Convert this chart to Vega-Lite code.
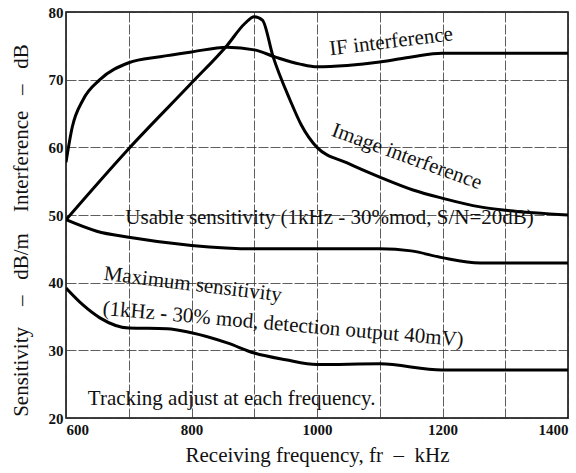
{
  "$schema": "https://vega.github.io/schema/vega-lite/v6.json",
  "width": 502,
  "height": 406,
  "autosize": {"type": "none"},
  "padding": {"left": 66, "top": 12, "right": 8, "bottom": 55},
  "background": "white",
  "config": {
    "view": {"stroke": "black", "strokeWidth": 1.5},
    "axis": {
      "grid": true,
      "gridColor": "#333",
      "gridWidth": 0.8,
      "gridDash": [10, 2],
      "domain": false,
      "ticks": false,
      "labelFont": "Liberation Sans Narrow",
      "labelFontWeight": "bold",
      "labelFontSize": 15,
      "labelColor": "#111",
      "titleFont": "Liberation Serif",
      "titleFontWeight": "normal",
      "titleFontSize": 21,
      "titleColor": "#111"
    }
  },
  "datasets": {
    "curves": [
      {"s": "IF", "x": 600, "y": 57.8},
      {"s": "IF", "x": 610, "y": 63},
      {"s": "IF", "x": 627, "y": 67},
      {"s": "IF", "x": 654, "y": 70},
      {"s": "IF", "x": 700, "y": 72.5},
      {"s": "IF", "x": 750, "y": 73.4},
      {"s": "IF", "x": 800, "y": 74.1},
      {"s": "IF", "x": 857, "y": 74.8},
      {"s": "IF", "x": 900, "y": 74.4},
      {"s": "IF", "x": 935, "y": 73.3},
      {"s": "IF", "x": 973, "y": 72.3},
      {"s": "IF", "x": 1000, "y": 71.9},
      {"s": "IF", "x": 1048, "y": 72.1},
      {"s": "IF", "x": 1100, "y": 72.6},
      {"s": "IF", "x": 1153, "y": 73.4},
      {"s": "IF", "x": 1199, "y": 73.9},
      {"s": "IF", "x": 1300, "y": 73.9},
      {"s": "IF", "x": 1400, "y": 73.9},
      {"s": "Image", "x": 600, "y": 49.3},
      {"s": "Image", "x": 700, "y": 59.8},
      {"s": "Image", "x": 800, "y": 69.5},
      {"s": "Image", "x": 857, "y": 75.1},
      {"s": "Image", "x": 885, "y": 78.3},
      {"s": "Image", "x": 900, "y": 79.3},
      {"s": "Image", "x": 913, "y": 78.8},
      {"s": "Image", "x": 930, "y": 73.4},
      {"s": "Image", "x": 957, "y": 67},
      {"s": "Image", "x": 975, "y": 63.3},
      {"s": "Image", "x": 1000, "y": 60},
      {"s": "Image", "x": 1048, "y": 57.7},
      {"s": "Image", "x": 1100, "y": 55.6},
      {"s": "Image", "x": 1153, "y": 53.7},
      {"s": "Image", "x": 1199, "y": 52.5},
      {"s": "Image", "x": 1260, "y": 51.2},
      {"s": "Image", "x": 1301, "y": 50.7},
      {"s": "Image", "x": 1400, "y": 50},
      {"s": "Usable", "x": 600, "y": 49.3},
      {"s": "Usable", "x": 649, "y": 47.6},
      {"s": "Usable", "x": 700, "y": 46.7},
      {"s": "Usable", "x": 800, "y": 45.5},
      {"s": "Usable", "x": 900, "y": 45},
      {"s": "Usable", "x": 1000, "y": 45},
      {"s": "Usable", "x": 1100, "y": 45},
      {"s": "Usable", "x": 1150, "y": 44.7},
      {"s": "Usable", "x": 1199, "y": 43.7},
      {"s": "Usable", "x": 1260, "y": 42.9},
      {"s": "Usable", "x": 1301, "y": 42.9},
      {"s": "Usable", "x": 1400, "y": 42.9},
      {"s": "Max", "x": 600, "y": 39.2},
      {"s": "Max", "x": 627, "y": 36.7},
      {"s": "Max", "x": 654, "y": 34.8},
      {"s": "Max", "x": 700, "y": 33.3},
      {"s": "Max", "x": 761, "y": 33.2},
      {"s": "Max", "x": 800, "y": 32.6},
      {"s": "Max", "x": 857, "y": 31.1},
      {"s": "Max", "x": 900, "y": 29.6},
      {"s": "Max", "x": 950, "y": 28.6},
      {"s": "Max", "x": 1000, "y": 27.9},
      {"s": "Max", "x": 1100, "y": 28.0},
      {"s": "Max", "x": 1199, "y": 27.1},
      {"s": "Max", "x": 1300, "y": 27.1},
      {"s": "Max", "x": 1400, "y": 27.1}
    ]
  },
  "layer": [
    {
      "data": {"name": "curves"},
      "mark": {"type": "line", "interpolate": "monotone", "color": "black", "strokeWidth": 3, "clip": true},
      "encoding": {
        "x": {
          "field": "x", "type": "quantitative",
          "scale": {"domain": [600, 1400], "nice": false, "zero": false},
          "axis": {
            "values": [600, 700, 800, 900, 1000, 1100, 1200, 1300, 1400],
            "labelExpr": "datum.value % 200 == 0 ? datum.label : ''",
            "format": "d",
            "labelFlush": true,
            "labelPadding": 4,
            "title": "Receiving frequency, fr\u00a0\u00a0\u2013\u00a0\u00a0kHz",
            "titlePadding": 7
          }
        },
        "y": {
          "field": "y", "type": "quantitative",
          "scale": {"domain": [20, 80], "nice": false, "zero": false},
          "axis": {
            "values": [20, 25, 30, 35, 40, 45, 50, 55, 60, 65, 70, 75, 80],
            "labelExpr": "datum.value % 10 == 0 ? datum.label : ''",
            "labelPadding": 3,
            "title": "Sensitivity\u00a0\u00a0\u00a0\u00a0\u2013\u00a0\u00a0\u00a0dB/m\u00a0\u00a0\u00a0\u00a0Interference\u00a0\u00a0\u00a0\u2013\u00a0\u00a0\u00a0dB",
            "titlePadding": 17,
            "titleY": 218
          }
        },
        "detail": {"field": "s"}
      }
    },
    {
      "data": {"values": [{"x": 1118, "y": 75.6, "t": "IF interference"}]},
      "mark": {"type": "text", "font": "Liberation Serif", "fontSize": 21, "angle": 353, "color": "#111"},
      "encoding": {"x": {"field": "x", "type": "quantitative"}, "y": {"field": "y", "type": "quantitative"}, "text": {"field": "t"}}
    },
    {
      "data": {"values": [{"x": 1143, "y": 58.6, "t": "Image interference"}]},
      "mark": {"type": "text", "font": "Liberation Serif", "fontSize": 21, "angle": 20, "color": "#111"},
      "encoding": {"x": {"field": "x", "type": "quantitative"}, "y": {"field": "y", "type": "quantitative"}, "text": {"field": "t"}}
    },
    {
      "data": {"values": [{"x": 1020, "y": 49.6, "t": "Usable sensitivity (1kHz - 30%mod, S/N=20dB)"}]},
      "mark": {"type": "text", "font": "Liberation Serif", "fontSize": 21, "color": "#111"},
      "encoding": {"x": {"field": "x", "type": "quantitative"}, "y": {"field": "y", "type": "quantitative"}, "text": {"field": "t"}}
    },
    {
      "data": {"values": [{"x": 802, "y": 39.7, "t": "Maximum sensitivity"}]},
      "mark": {"type": "text", "font": "Liberation Serif", "fontSize": 21, "angle": 7, "color": "#111"},
      "encoding": {"x": {"field": "x", "type": "quantitative"}, "y": {"field": "y", "type": "quantitative"}, "text": {"field": "t"}}
    },
    {
      "data": {"values": [{"x": 946, "y": 33.8, "t": "(1kHz - 30% mod, detection output 40mV)"}]},
      "mark": {"type": "text", "font": "Liberation Serif", "fontSize": 21, "angle": 5, "color": "#111"},
      "encoding": {"x": {"field": "x", "type": "quantitative"}, "y": {"field": "y", "type": "quantitative"}, "text": {"field": "t"}}
    },
    {
      "data": {"values": [{"x": 864, "y": 22.8, "t": "Tracking adjust at each frequency."}]},
      "mark": {"type": "text", "font": "Liberation Serif", "fontSize": 21, "color": "#111"},
      "encoding": {"x": {"field": "x", "type": "quantitative"}, "y": {"field": "y", "type": "quantitative"}, "text": {"field": "t"}}
    }
  ]
}
